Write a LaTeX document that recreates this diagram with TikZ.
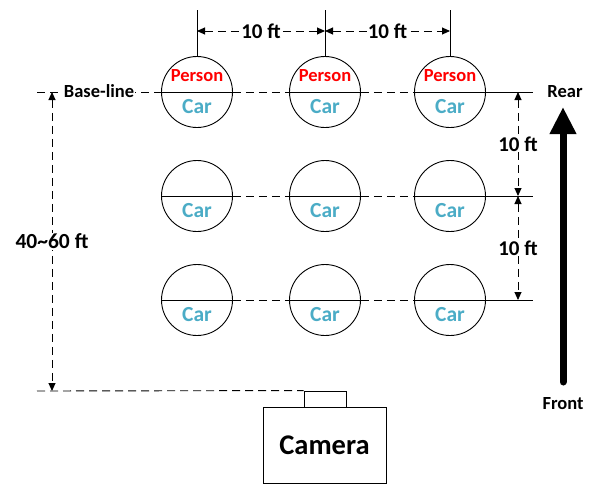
\documentclass[tikz,border=0pt]{standalone}
\usepackage{fontspec}
\setmainfont{Carlito}
\usetikzlibrary{arrows.meta}
\definecolor{carblue}{HTML}{4BACC6}
\begin{document}
\begin{tikzpicture}[x=1pt,y=-1pt,
  spot/.style={circle,draw,line width=0.9pt,minimum size=71pt,inner sep=0pt},
  persontxt/.style={font=\bfseries\fontsize{18.5}{20}\selectfont,text=red,anchor=base,inner sep=0pt},
  cartxt/.style={font=\bfseries\fontsize{21.5}{23}\selectfont,text=carblue,anchor=base,inner sep=0pt},
  dimlbl/.style={font=\bfseries\fontsize{21}{23}\selectfont,fill=white,inner sep=1pt},
  sidelbl/.style={font=\bfseries\fontsize{18.5}{20}\selectfont,inner sep=1pt},
  dashline/.style={line width=0.9pt,dash pattern=on 8pt off 5pt},
  dimline/.style={dashline,{Triangle[length=8pt,width=7pt]}-{Triangle[length=8pt,width=7pt]}},
  thin/.style={line width=0.9pt}
]
\useasboundingbox (0,0) rectangle (592,485);
% circles
\foreach \r/\y in {1/92,2/196,3/300}{
  \foreach \c/\x in {1/197,2/325,3/450}{
    \node[spot] (c\r\c) at (\x,\y) {};
    \draw[thin] (c\r\c.west) -- (c\r\c.east);
    \node[cartxt] (car\r\c) at (\x,\y+21.3) {Car};
  }
  \draw[dashline] (c\r1.east) -- (c\r2.west);
  \draw[dashline] (c\r2.east) -- (c\r3.west);
  \coordinate (r\r) at (533,\y);
  \draw[thin] (c\r3.east) -- (r\r);
}
\foreach \c/\x in {1/197,2/325,3/450}{
  \node[persontxt] (p\c) at (\x,81.3) {Person};
  \coordinate (t\c) at (\x,10);
  \draw[thin] (t\c) -- (c1\c.north);
  \coordinate (h\c) at (\x,31);
}
% top dimensions
\draw[dimline] (h1) -- node[dimlbl] (dh1) {10 ft} (h2);
\draw[dimline] (h2) -- node[dimlbl] (dh2) {10 ft} (h3);
% base-line
\coordinate (bl) at (37,92);
\draw[dashline] (bl) -- (c11.west);
\node[sidelbl,fill=white] (baseline) at (99,91) {Base-line};
% right dimensions
\coordinate (d1) at (518,92);
\coordinate (d2) at (518,196);
\coordinate (d3) at (518,300);
\draw[dimline] (d1) -- node[dimlbl] (dv1) {10 ft} (d2);
\draw[dimline] (d2) -- node[dimlbl] (dv2) {10 ft} (d3);
% left dimension
\coordinate (l1) at (52,92);
\coordinate (l2) at (52,391);
\draw[dimline] (l1) -- node[dimlbl,font=\bfseries\fontsize{21.5}{23}\selectfont] (dl) {40\textasciitilde60 ft} (l2);
% camera
\node[draw,thin,minimum width=42pt,minimum height=16pt,inner sep=0pt] (bump) at (325,399) {};
\node[draw,thin,minimum width=123pt,minimum height=76pt,inner sep=0pt,font=\bfseries\fontsize{28.5}{30}\selectfont] (cam) at (324.5,445) {Camera};
\coordinate (bb) at (37,391);
\draw[dashline] (bb) -- (bump.north west);
% front-rear arrow
\coordinate (ab) at (563,382);
\coordinate (at) at (563,107);
\draw[line width=7pt,line cap=round,-{Triangle[length=27pt,width=25pt]}] (ab) -- (at);
\node[sidelbl] (rear) at (565,92) {Rear};
\node[sidelbl] (front) at (563,404) {Front};
\end{tikzpicture}
\end{document}
